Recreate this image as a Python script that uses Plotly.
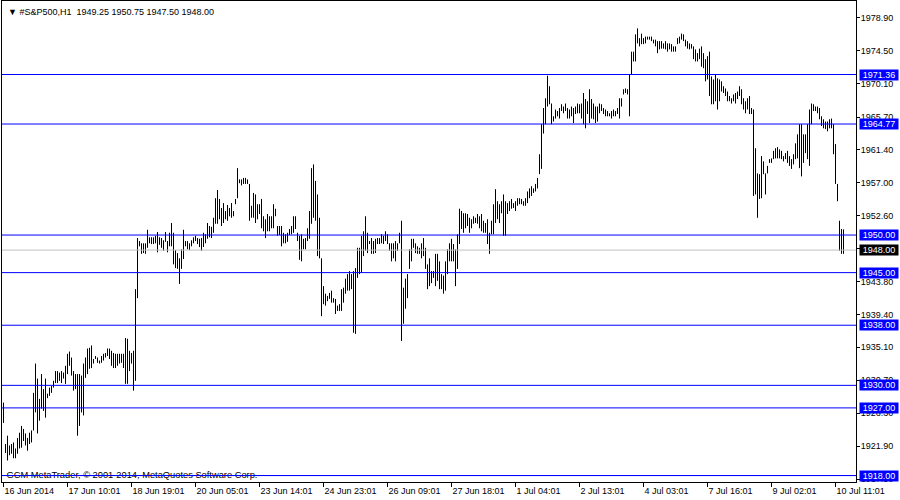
import plotly.graph_objects as go

# ---- data ----
symbol_title = "\u25bc\u00a0#S&P500,H1\u00a0\u00a01949.25 1950.75 1947.50 1948.00"
copyright_text = "GCM MetaTrader, \u00a9 2001-2014, MetaQuotes Software Corp."

highs = [
    1927.7, 1922.2, 1923.3, 1922.0, 1922.2, 1922.4, 1921.6, 1923.0, 1923.7, 1924.6,
    1924.2, 1923.6, 1923.0, 1923.7, 1924.0, 1929.0, 1932.9, 1930.9, 1928.2, 1931.5,
    1929.5, 1930.9, 1928.9, 1929.7, 1929.9, 1930.6, 1931.9, 1931.9, 1931.7, 1931.9,
    1931.7, 1932.6, 1934.2, 1934.5, 1933.7, 1931.9, 1931.5, 1931.5, 1931.5, 1931.3,
    1932.9, 1933.7, 1934.9, 1935.0, 1935.3, 1933.5, 1933.9, 1933.7, 1933.3, 1933.9,
    1934.2, 1934.3, 1934.9, 1934.9, 1934.6, 1934.3, 1934.2, 1934.2, 1934.2, 1934.2,
    1934.2, 1936.3, 1936.2, 1934.6, 1934.3, 1934.6, 1942.8, 1949.6, 1949.2, 1948.9,
    1948.9, 1948.9, 1950.7, 1949.7, 1949.7, 1949.7, 1949.9, 1950.4, 1949.7, 1949.6,
    1949.3, 1950.4, 1949.2, 1950.3, 1951.6, 1950.3, 1948.0, 1947.6, 1946.9, 1948.1,
    1950.7, 1949.2, 1949.2, 1948.9, 1949.3, 1949.7, 1949.9, 1949.6, 1949.5, 1949.6,
    1950.3, 1950.1, 1951.6, 1951.2, 1951.1, 1952.3, 1954.9, 1956.0, 1954.8, 1953.6,
    1954.25, 1953.2, 1954.0, 1953.6, 1954.25, 1953.2, 1954.8, 1958.9, 1957.4, 1957.4,
    1957.6, 1957.6, 1957.4, 1956.8, 1953.9, 1955.6, 1955.4, 1954.1, 1954.1, 1954.8,
    1952.5, 1952.1, 1952.8, 1952.5, 1952.5, 1954.1, 1953.5, 1951.2, 1951.2, 1951.2,
    1950.3, 1950.1, 1950.3, 1950.8, 1951.2, 1952.5, 1952.5, 1950.3, 1949.9, 1950.1,
    1949.5, 1949.6, 1950.9, 1953.2, 1958.9, 1959.4, 1957.2, 1955.4, 1952.3, 1946.9,
    1943.2, 1942.2, 1941.9, 1942.3, 1942.6, 1941.6, 1941.5, 1940.6, 1940.8, 1942.8,
    1943.0, 1944.2, 1944.8, 1945.2, 1944.8, 1945.2, 1945.6, 1948.3, 1948.3, 1949.9,
    1950.5, 1952.5, 1950.3, 1949.2, 1949.6, 1949.2, 1949.5, 1949.6, 1949.6, 1950.1,
    1949.9, 1950.5, 1950.1, 1948.9, 1948.9, 1948.9, 1949.2, 1948.9, 1950.3, 1951.9,
    1943.0, 1944.2, 1944.8, 1948.1, 1949.5, 1949.5, 1948.9, 1948.5, 1948.3, 1948.9,
    1949.6, 1948.3, 1946.1, 1946.9, 1945.2, 1945.2, 1947.5, 1947.5, 1946.5, 1944.8,
    1944.6, 1946.5, 1948.1, 1948.9, 1949.5, 1948.8, 1948.1, 1950.1, 1953.5, 1953.2,
    1952.9, 1952.9, 1952.8, 1952.3, 1952.1, 1952.5, 1952.3, 1952.8, 1952.5, 1952.8,
    1951.9, 1951.6, 1952.1, 1950.3, 1951.9, 1954.1, 1956.1, 1954.5, 1954.1, 1954.5,
    1955.4, 1954.5, 1954.25, 1954.5, 1954.8, 1954.25, 1954.5, 1954.9, 1954.9, 1954.8,
    1954.5, 1954.9, 1955.8, 1956.2, 1956.5, 1956.2, 1956.8, 1957.6, 1960.75, 1964.75,
    1966.9, 1968.2, 1971.2, 1969.8, 1967.5, 1965.8, 1966.7, 1966.5, 1966.9, 1967.4,
    1967.1, 1967.5, 1966.9, 1966.7, 1967.1, 1966.9, 1967.1, 1967.5, 1967.4, 1967.5,
    1968.9, 1968.1, 1967.8, 1969.4, 1968.1, 1967.5, 1967.1, 1967.1, 1967.5, 1967.4,
    1966.9, 1966.7, 1966.5, 1966.2, 1966.5, 1966.7, 1966.5, 1966.9, 1968.2, 1968.2,
    1969.4, 1969.5, 1969.4, 1971.4, 1974.4, 1974.4, 1976.7, 1977.5, 1976.2, 1976.8,
    1976.2, 1976.4, 1976.4, 1976.4, 1976.4, 1976.0, 1976.0, 1975.8, 1975.8, 1975.8,
    1975.5, 1975.8, 1975.5, 1975.5, 1975.4, 1975.1, 1975.1, 1976.2, 1976.4, 1976.8,
    1976.7, 1976.0, 1975.8, 1975.5, 1975.4, 1975.1, 1974.7, 1974.2, 1974.8, 1975.1,
    1974.2, 1973.4, 1973.8, 1974.4, 1971.1, 1970.7, 1971.4, 1970.85, 1970.7, 1970.45,
    1969.8, 1969.5, 1969.1, 1968.5, 1968.2, 1968.7, 1968.9, 1969.1, 1969.8, 1969.4,
    1968.2, 1967.8, 1968.2, 1968.5, 1966.9, 1966.7, 1961.55, 1958.2, 1958.1, 1960.5,
    1959.8, 1958.2, 1959.2, 1960.1, 1960.2, 1961.2, 1961.55, 1961.7, 1961.4, 1961.2,
    1960.5, 1960.9, 1961.2, 1960.5, 1960.1, 1960.75, 1962.2, 1963.4, 1964.75, 1964.75,
    1963.4, 1963.4, 1964.75, 1966.7, 1967.5, 1967.4, 1967.1, 1967.1, 1966.9, 1965.8,
    1965.4, 1965.1, 1965.1, 1965.4, 1965.5, 1964.75, 1962.1, 1956.8, 1951.9, 1950.8,
    1950.75,
]

lows = [
    1925.0, 1921.0, 1920.0, 1920.7, 1920.9, 1920.3, 1920.3, 1920.9, 1921.6, 1921.7,
    1922.6, 1922.0, 1921.3, 1922.2, 1922.4, 1924.0, 1926.4, 1923.6, 1925.3, 1926.9,
    1926.6, 1925.7, 1928.3, 1928.6, 1929.0, 1929.7, 1930.3, 1930.3, 1930.6, 1930.3,
    1930.9, 1930.2, 1931.5, 1932.6, 1931.3, 1929.3, 1929.5, 1923.3, 1924.6, 1926.4,
    1926.0, 1931.0, 1931.5, 1932.2, 1932.3, 1932.9, 1933.5, 1933.0, 1932.9, 1933.0,
    1933.3, 1933.7, 1933.9, 1933.5, 1932.6, 1932.3, 1932.3, 1932.6, 1932.9, 1933.0,
    1932.3, 1930.2, 1930.2, 1931.9, 1932.9, 1929.3, 1930.6, 1941.6, 1948.5, 1947.5,
    1947.6, 1947.5, 1948.3, 1948.9, 1948.8, 1948.8, 1948.9, 1947.7, 1948.7, 1948.3,
    1947.9, 1949.1, 1947.7, 1948.5, 1948.5, 1946.1, 1945.6, 1945.5, 1943.5, 1945.5,
    1946.8, 1948.5, 1948.1, 1948.0, 1948.5, 1948.9, 1949.2, 1948.8, 1948.4, 1947.9,
    1948.4, 1948.9, 1949.5, 1949.7, 1949.6, 1950.3, 1951.5, 1951.5, 1952.1, 1951.2,
    1951.6, 1952.1, 1951.9, 1952.5, 1952.3, 1952.5, 1954.1, 1954.9, 1956.9, 1956.6,
    1956.8, 1956.8, 1956.8, 1951.9, 1952.3, 1952.3, 1951.6, 1952.1, 1952.8, 1950.9,
    1950.5, 1949.6, 1950.5, 1950.5, 1950.9, 1950.9, 1952.5, 1949.9, 1950.0, 1948.5,
    1948.9, 1948.9, 1949.1, 1950.0, 1950.1, 1950.3, 1950.8, 1949.2, 1946.7, 1946.5,
    1948.1, 1948.1, 1949.2, 1949.5, 1951.5, 1952.3, 1951.9, 1947.2, 1946.9, 1939.2,
    1940.8, 1940.6, 1941.2, 1941.5, 1941.0, 1941.0, 1939.5, 1939.9, 1939.9, 1939.9,
    1941.0, 1942.2, 1942.6, 1942.6, 1942.8, 1937.0, 1936.85, 1944.3, 1944.8, 1944.95,
    1947.2, 1947.9, 1947.6, 1948.8, 1947.5, 1947.5, 1947.6, 1948.8, 1948.8, 1948.9,
    1948.8, 1949.2, 1948.8, 1947.9, 1946.5, 1946.9, 1946.5, 1947.9, 1948.9, 1935.9,
    1938.2, 1940.2, 1941.6, 1945.5, 1946.5, 1948.3, 1947.6, 1947.5, 1947.5, 1946.9,
    1947.2, 1945.5, 1942.8, 1943.2, 1943.6, 1944.3, 1943.2, 1943.9, 1942.8, 1942.8,
    1942.2, 1942.6, 1944.8, 1946.5, 1946.5, 1946.5, 1943.2, 1945.5, 1948.8, 1950.8,
    1950.3, 1950.9, 1951.2, 1950.3, 1950.9, 1951.5, 1951.6, 1951.5, 1950.9, 1950.5,
    1950.3, 1950.3, 1948.8, 1947.5, 1950.1, 1950.1, 1951.6, 1952.1, 1951.6, 1952.9,
    1949.9, 1949.9, 1952.8, 1953.2, 1953.5, 1953.6, 1953.2, 1953.9, 1954.1, 1954.1,
    1953.9, 1953.9, 1954.25, 1954.9, 1955.2, 1955.6, 1955.8, 1956.2, 1958.1, 1958.8,
    1963.5, 1964.75, 1967.1, 1967.4, 1964.75, 1965.1, 1965.5, 1965.8, 1965.5, 1966.5,
    1966.2, 1966.5, 1965.5, 1965.5, 1965.8, 1964.9, 1966.1, 1966.2, 1966.2, 1965.5,
    1964.75, 1964.2, 1966.1, 1964.9, 1965.5, 1965.4, 1964.9, 1965.1, 1966.2, 1966.5,
    1966.1, 1965.8, 1965.8, 1965.8, 1965.5, 1965.8, 1965.8, 1966.1, 1965.5, 1967.1,
    1968.7, 1968.9, 1968.7, 1965.8, 1971.4, 1973.1, 1973.1, 1975.5, 1975.1, 1975.4,
    1975.4, 1975.5, 1976.0, 1976.0, 1975.8, 1975.5, 1975.1, 1974.2, 1974.7, 1974.8,
    1974.8, 1974.7, 1974.4, 1974.7, 1974.4, 1974.4, 1974.4, 1975.4, 1975.5, 1976.0,
    1975.8, 1975.1, 1974.8, 1974.7, 1974.8, 1973.4, 1973.1, 1973.1, 1973.4, 1972.4,
    1972.2, 1970.45, 1970.7, 1968.5, 1967.4, 1967.4, 1967.8, 1966.7, 1967.8, 1969.1,
    1968.9, 1968.5, 1967.8, 1967.8, 1967.5, 1967.8, 1967.5, 1968.1, 1968.5, 1967.4,
    1966.7, 1966.2, 1966.7, 1966.1, 1966.1, 1955.2, 1955.4, 1952.3, 1954.8, 1954.9,
    1958.1, 1955.4, 1958.2, 1959.6, 1959.6, 1960.1, 1960.2, 1960.2, 1960.2, 1960.1,
    1959.8, 1960.1, 1959.6, 1959.2, 1958.8, 1959.4, 1960.1, 1960.2, 1958.9, 1957.8,
    1959.6, 1960.9, 1960.1, 1959.2, 1964.75, 1966.5, 1966.5, 1966.2, 1965.4, 1964.5,
    1964.2, 1964.1, 1963.8, 1964.2, 1964.2, 1960.75, 1956.8, 1954.5, 1947.9, 1947.5,
    1947.5,
]

level_prices = [1971.36, 1964.77, 1950.00, 1945.00, 1938.00, 1930.00, 1927.00, 1918.00]
bid_price = 1948.00

price_ticks = [1978.90, 1974.50, 1970.10, 1965.70, 1961.40, 1957.00, 1952.60, 1948.20,
               1943.80, 1939.40, 1935.10, 1930.70, 1926.30, 1921.90, 1917.50]

time_tick_bars = [0, 32, 64, 96, 128, 160, 192, 224, 256, 288, 320, 352, 384, 416]
time_tick_labels = ["16 Jun 2014", "17 Jun 10:01", "18 Jun 19:01", "20 Jun 05:01",
                    "23 Jun 14:01", "24 Jun 23:01", "26 Jun 09:01", "27 Jun 18:01",
                    "1 Jul 04:01", "2 Jul 13:01", "4 Jul 03:01", "7 Jul 16:01",
                    "9 Jul 02:01", "10 Jul 11:01"]

# ---- figure ----
FONT = "Liberation Sans, Arial, sans-serif"
BLUE = "#0000FF"
X_RANGE = [-0.75, 426.25]
Y_RANGE = [1917.14, 1981.14]

bx, by = [], []
for i, (h, l) in enumerate(zip(highs, lows)):
    bx += [i, i, None]
    by += [l, h, None]

fig = go.Figure()
fig.add_trace(go.Scatter(x=bx, y=by, mode="lines",
                         line=dict(color="black", width=1),
                         hoverinfo="skip", showlegend=False))

# bid line (silver) and horizontal level lines (blue), drawn over the bars
fig.add_trace(go.Scatter(x=X_RANGE, y=[bid_price, bid_price], mode="lines",
                         line=dict(color="#C0C0C0", width=1),
                         hoverinfo="skip", showlegend=False))
for p in level_prices:
    fig.add_trace(go.Scatter(x=X_RANGE, y=[p, p], mode="lines",
                             line=dict(color=BLUE, width=1),
                             hoverinfo="skip", showlegend=False))

# copyright text, drawn in the chart (level line passes through it)
fig.add_trace(go.Scatter(x=[1.5], y=[level_prices[-1]], mode="text",
                         text=[copyright_text], textposition="middle right",
                         textfont=dict(family=FONT, size=9.3, color="black"),
                         hoverinfo="skip", showlegend=False, cliponaxis=False))
# redraw the bottom level line over the text, as in the reference
fig.add_trace(go.Scatter(x=X_RANGE, y=[level_prices[-1], level_prices[-1]], mode="lines",
                         line=dict(color=BLUE, width=1),
                         hoverinfo="skip", showlegend=False))

annotations = []
for p in level_prices:
    annotations.append(dict(xref="paper", x=1, xanchor="left", xshift=3,
                            yref="y", y=p, yanchor="middle",
                            text=f"{p:.2f}", showarrow=False,
                            bgcolor=BLUE, width=38, height=10, borderpad=0,
                            font=dict(family=FONT, size=9, color="white")))
annotations.append(dict(xref="paper", x=1, xanchor="left", xshift=3,
                        yref="y", y=bid_price, yanchor="middle",
                        text=f"{bid_price:.2f}", showarrow=False,
                        bgcolor="black", width=38, height=10, borderpad=0,
                        font=dict(family=FONT, size=9, color="white")))
annotations.append(dict(xref="paper", x=0, xanchor="left", xshift=4,
                        yref="paper", y=1, yanchor="middle", yshift=-10.5,
                        text=symbol_title, showarrow=False,
                        font=dict(family=FONT, size=9, color="black")))

fig.update_layout(
    width=900, height=500,
    margin=dict(l=2, r=44, t=1, b=18, pad=0),
    paper_bgcolor="white", plot_bgcolor="white",
    showlegend=False, hovermode=False,
    annotations=annotations,
    font=dict(family=FONT, size=9, color="black"),
    xaxis=dict(range=X_RANGE, showgrid=False, zeroline=False,
               showline=True, linecolor="black", linewidth=1, mirror=True,
               ticks="outside", ticklen=4, tickcolor="black", tickwidth=1,
               tickmode="array", tickvals=time_tick_bars, ticktext=time_tick_labels,
               ticklabelposition="outside right",
               tickfont=dict(family=FONT, size=9, color="black"), fixedrange=True),
    yaxis=dict(range=Y_RANGE, side="right", showgrid=False, zeroline=False,
               showline=True, linecolor="black", linewidth=1, mirror=True,
               ticks="outside", ticklen=3, tickcolor="black", tickwidth=1,
               tickmode="array", tickvals=price_ticks,
               ticktext=[f"{t:.2f}" for t in price_ticks],
               ticklabelstandoff=-1,
               tickfont=dict(family=FONT, size=9, color="black"), fixedrange=True),
)

fig.write_html("out.html", config={"displayModeBar": False, "staticPlot": True},
               post_script="document.body.style.margin='0';")
